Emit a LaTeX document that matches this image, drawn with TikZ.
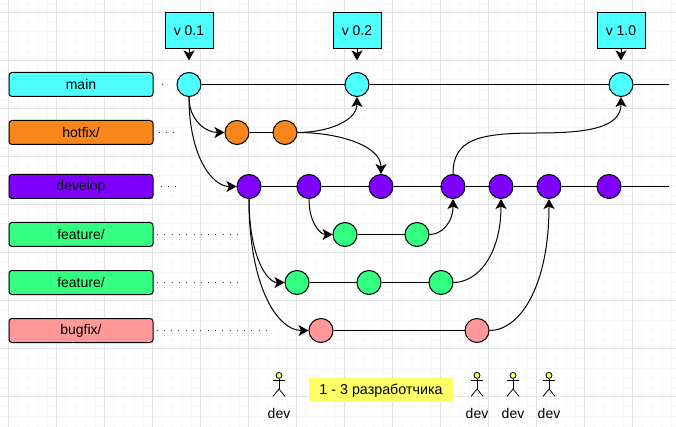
\documentclass[tikz,border=0pt]{standalone}
\usepackage{fontspec}
\setmainfont{Liberation Sans}
\usetikzlibrary{arrows.meta}
\definecolor{cCyan}{HTML}{4DFFFF}
\definecolor{cOrange}{HTML}{F8861B}
\definecolor{cPurple}{HTML}{8000FF}
\definecolor{cGreen}{HTML}{33FF80}
\definecolor{cPink}{HTML}{FF9999}
\definecolor{cYellow}{HTML}{FFFF66}
\definecolor{cActor}{HTML}{FFFF66}
\tikzset{
  x=1pt,y=-1pt,
  every node/.style={font=\fontsize{14}{16}\selectfont},
  branch/.style={draw=black,line width=1pt,rounded corners=3pt,minimum width=144pt,minimum height=24pt,inner sep=0pt},
  commit/.style={circle,draw=black,line width=1pt,minimum size=24pt,inner sep=0pt},
  tagbox/.style={draw=black,line width=1pt,fill=cCyan,minimum width=48pt,minimum height=36pt,inner sep=0pt},
  link/.style={line width=1pt,draw=black},
  edge/.style={line width=1pt,draw=black,-{Stealth[length=10pt,width=11pt,inset=2.5pt]}},
  guide/.style={line width=1pt,draw=black!80,dash pattern=on 1pt off 6.3pt},
  actorline/.style={line width=0.8pt,draw=black},
  label/.style={inner sep=0pt}
}
\begin{document}
\begin{tikzpicture}
\useasboundingbox (0,0) rectangle (676,427);
\fill[white] (0,0) rectangle (676,427);
% grid
\foreach \k in {0,...,70}{\draw[line width=0.8pt,draw=black!3] ({8.7+9.6*\k},0) -- ({8.7+9.6*\k},427);}
\foreach \k in {0,...,44}{\draw[line width=0.8pt,draw=black!3] (0,{3.1+9.6*\k}) -- (676,{3.1+9.6*\k});}
\foreach \k in {0,...,14}{\draw[line width=0.8pt,draw=black!11] ({8.7+48*\k},0) -- ({8.7+48*\k},427);}
\foreach \k in {0,...,8}{\draw[line width=0.8pt,draw=black!11] (0,{12.7+48*\k}) -- (676,{12.7+48*\k});}
% branch labels
\node[branch,fill=cCyan] (bmain) at (81,84.5) {main};
\node[branch,fill=cOrange] (bhot) at (81,132.5) {hotfix/};
\node[branch,fill=cPurple] (bdev) at (81,186.5) {develop};
\node[branch,fill=cGreen] (bfa) at (81,234.5) {feature/};
\node[branch,fill=cGreen] (bfb) at (81,282.5) {feature/};
\node[branch,fill=cPink] (bbug) at (81,330.5) {bugfix/};
% commits
\node[commit,fill=cCyan] (m1) at (189,84.5) {};
\node[commit,fill=cCyan] (m2) at (357,84.5) {};
\node[commit,fill=cCyan] (m3) at (621,84.5) {};
\node[commit,fill=cOrange] (h1) at (237,132.5) {};
\node[commit,fill=cOrange] (h2) at (285,132.5) {};
\node[commit,fill=cPurple] (d1) at (249,186.5) {};
\node[commit,fill=cPurple] (d2) at (309,186.5) {};
\node[commit,fill=cPurple] (d3) at (381,186.5) {};
\node[commit,fill=cPurple] (d4) at (453,186.5) {};
\node[commit,fill=cPurple] (d5) at (501,186.5) {};
\node[commit,fill=cPurple] (d6) at (549,186.5) {};
\node[commit,fill=cPurple] (d7) at (609,186.5) {};
\node[commit,fill=cGreen] (a1) at (345,234.5) {};
\node[commit,fill=cGreen] (a2) at (417,234.5) {};
\node[commit,fill=cGreen] (b1) at (297,282.5) {};
\node[commit,fill=cGreen] (b2) at (369,282.5) {};
\node[commit,fill=cGreen] (b3) at (441,282.5) {};
\node[commit,fill=cPink] (f1) at (321,330.5) {};
\node[commit,fill=cPink] (f2) at (477,330.5) {};
\coordinate (mend) at (669,84.5);
\coordinate (dend) at (669,186.5);
\coordinate (dm) at (537,133);
% guide ends
\coordinate (gm) at (162.5,84.5);
\coordinate (gh) at (177,132.5);
\coordinate (gd) at (177,186.5);
\coordinate (ga) at (244.5,234.5);
\coordinate (gb) at (244.5,282.5);
\coordinate (gf) at (270,330.5);
\foreach \s/\e/\o in {bmain/gm/8,bhot/gh/5,bdev/gd/7,bfa/ga/3.5,bfb/gb/3.5,bbug/gf/3}{\draw[guide] (\s.east) ++(\o,0) -- (\e);}
% straight links
\draw[link] (m1) -- (m2);
\draw[link] (m2) -- (m3);
\draw[link] (m3) -- (mend);
\draw[link] (h1) -- (h2);
\draw[link] (d1) -- (d2);
\draw[link] (d2) -- (d3);
\draw[link] (d3) -- (d4);
\draw[link] (d4) -- (d5);
\draw[link] (d5) -- (d6);
\draw[link] (d6) -- (d7);
\draw[link] (d7) -- (dend);
\draw[link] (a1) -- (a2);
\draw[link] (b1) -- (b2);
\draw[link] (b2) -- (b3);
\draw[link] (f1) -- (f2);
% curves
\draw[edge] (m1.south) .. controls +(0,24) and +(-18,0) .. (h1.west);
\draw[edge] (m1.south) .. controls +(0,60) and +(-24,0) .. (d1.west);
\draw[edge] (d1.south) .. controls +(0,56) and +(-18,0) .. (b1.west);
\draw[edge] (d1.south) .. controls +(0,90) and +(-30,0) .. (f1.west);
\draw[edge] (d2.south) .. controls +(0,24) and +(-12,0) .. (a1.west);
\draw[edge] (h2.east) .. controls +(30,0) and +(0,24) .. (m2.south);
\draw[edge] (h2.east) .. controls +(42,0) and +(0,-28) .. (d3.north);
\draw[edge] (d4.north) .. controls +(0,-34.5) and +(-59,0) .. (dm) .. controls +(48,0) and +(0,31.5) .. (m3.south);
\draw[edge] (a2.east) .. controls +(12,0) and +(0,24) .. (d4.south);
\draw[edge] (b3.east) .. controls +(24,0) and +(0,56) .. (d5.south);
\draw[edge] (f2.east) .. controls +(30,0) and +(0,88) .. (d6.south);
% tags
\node[tagbox] (t1) at (189,30.5) {v 0.1};
\node[tagbox] (t2) at (357,30.5) {v 0.2};
\node[tagbox] (t3) at (621,30.5) {v 1.0};
\coordinate (t1e) at (189,60.5);
\coordinate (t2e) at (357,60.5);
\coordinate (t3e) at (621,60.5);
\draw[edge] (t1.south) -- (t1e);
\draw[edge] (t2.south) -- (t2e);
\draw[edge] (t3.south) -- (t3e);
% note
\node[fill=cYellow,minimum width=144pt,minimum height=24pt,inner sep=0pt,font=\fontsize{14.3}{16}\selectfont] (note) at (381,390.4) {1 - 3 разработчика};
% actors
\foreach \n/\x in {ua/279,ub/477,uc/513,ud/549}{
  \node[circle,draw=black,line width=0.8pt,fill=cActor,minimum size=6pt,inner sep=0pt] (\n) at (\x,375.4) {};
  \draw[actorline] (\n.south) -- (\x,389);
  \draw[actorline] (\x-6,380.8) -- (\x+6,380.8);
  \draw[actorline] (\x-6,396.4) -- (\x,389) -- (\x+6,396.4);
  \node[label] at (\x,413) {dev};
}
\end{tikzpicture}
\end{document}
